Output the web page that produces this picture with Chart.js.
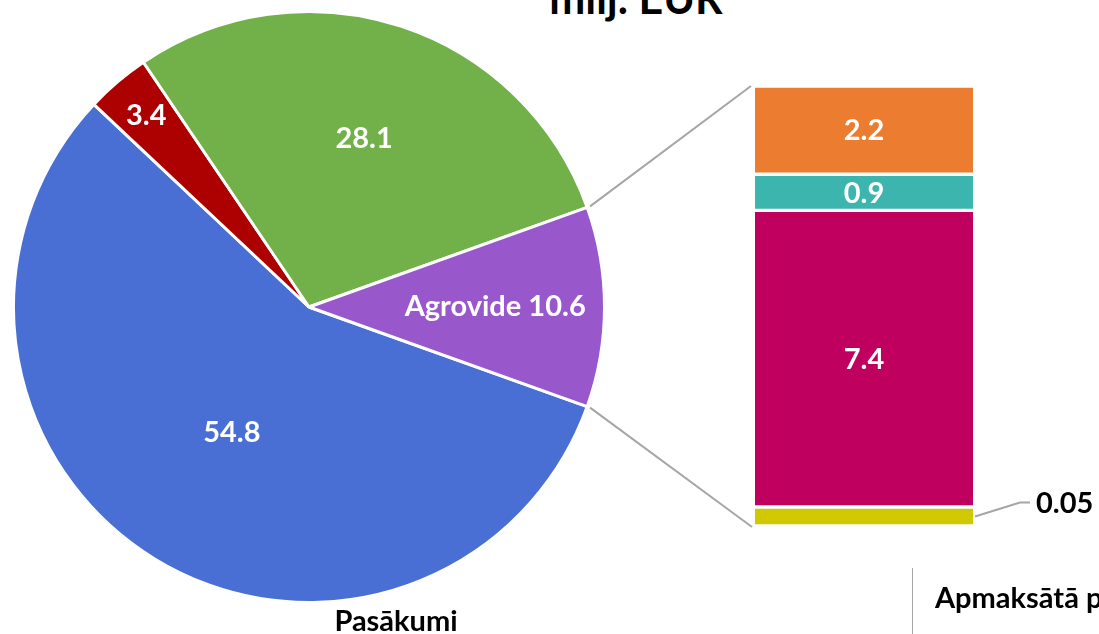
<!DOCTYPE html>
<html>
<head>
<meta charset="utf-8">
<script src="https://cdn.jsdelivr.net/npm/chart.js@4.4.1/dist/chart.umd.min.js"></script>
<style>
  html, body { margin: 0; padding: 0; background: #fff; overflow: hidden; }
  body { width: 1099px; height: 634px; position: relative; font-family: Lato, "Open Sans", sans-serif; }
  canvas { position: absolute; }
  #pie { left: 12px; top: 10px; }
  #bar { left: 755px; top: 86px; }
  #links { left: 0; top: 0; pointer-events: none; }
  .txt { position: absolute; font-weight: bold; color: #000; white-space: nowrap; line-height: 1; }
  #sep { position: absolute; left: 912px; top: 568px; width: 1px; height: 70px; background: #a6a6a6; }
</style>
</head>
<body>
<div class="txt" style="left:0; width:1272px; text-align:center; top:-24px; font-size:43px;">milj. EUR</div>
<canvas id="pie" width="594" height="594"></canvas>
<canvas id="bar" width="218" height="440"></canvas>
<canvas id="links" width="1099" height="634"></canvas>
<div class="txt" style="left:0; width:792px; text-align:center; top:605px; font-size:29px;">Pasākumi</div>
<div id="sep"></div>
<div class="txt" style="left:935px; top:582px; font-size:29px;">Apmaksātā p</div>

<script>
// pie: main split (last slice is broken out into the bar)
const pieNames = ['', '', '', 'Agrovide'];   // only the Agrovide name is shown
const pieValues = [54.8, 3.4, 28.1, 10.6];
const pieColors = ['#4a6fd4', '#ad0000', '#72b04a', '#9957cc'];
const pieLabelRadius = [0.5, 0.85, 0.6, 0.63];

// bar: Agrovide breakdown, bottom to top
const barValues = [0.05, 7.4, 0.9, 2.2];
const barColors = ['#d0c800', '#c0005e', '#3cb5ae', '#ec7c2f'];
const barLabelOutside = [true, false, false, false];

const LABEL_FONT = 'bold 29px Lato, "Open Sans", sans-serif';
const MIN_BAR = 19;   // tiny segments are still drawn this tall

const pieTotal = pieValues.reduce((a, b) => a + b, 0);
// turn the pie so the broken-out slice faces the bar (centred at 3 o'clock)
const last = pieValues.length - 1;
const beforeLast = pieValues.slice(0, last).reduce((a, b) => a + b, 0);
const pieRotation = 90 - (beforeLast + pieValues[last] / 2) / pieTotal * 360;

const pieLabelPlugin = {
    id: 'pieLabels',
    afterDatasetsDraw(chart) {
        const ctx = chart.ctx;
        const arcs = chart.getDatasetMeta(0).data;
        ctx.save();
        ctx.font = LABEL_FONT;
        ctx.fillStyle = '#fff';
        ctx.textAlign = 'center';
        ctx.textBaseline = 'middle';
        arcs.forEach((arc, i) => {
            const p = arc.getProps(['x', 'y', 'startAngle', 'endAngle', 'outerRadius'], true);
            const mid = (p.startAngle + p.endAngle) / 2;
            const r = p.outerRadius * pieLabelRadius[i];
            const text = (pieNames[i] ? pieNames[i] + ' ' : '') + pieValues[i].toFixed(1);
            ctx.fillText(text, p.x + Math.cos(mid) * r, p.y + Math.sin(mid) * r);
        });
        ctx.restore();
    }
};

const barLabelPlugin = {
    id: 'barLabels',
    afterDatasetsDraw(chart) {
        const ctx = chart.ctx;
        ctx.save();
        ctx.font = LABEL_FONT;
        ctx.fillStyle = '#fff';
        ctx.textAlign = 'center';
        ctx.textBaseline = 'middle';
        chart.data.datasets.forEach((ds, i) => {
            if (barLabelOutside[i]) return;
            const bar = chart.getDatasetMeta(i).data[0];
            const p = bar.getProps(['x', 'y', 'base'], true);
            ctx.fillText(String(barValues[i]), p.x, (p.y + p.base) / 2 + 1);
        });
        ctx.restore();
    }
};

function drawCharts() {
    const pieCanvas = document.getElementById('pie');
    const barCanvas = document.getElementById('bar');

    const pieChart = new Chart(pieCanvas, {
        type: 'pie',
        data: {
            labels: pieNames,
            datasets: [{
                data: pieValues,
                backgroundColor: pieColors,
                borderColor: '#fff',
                borderWidth: 3
            }]
        },
        options: {
            responsive: false,
            animation: false,
            rotation: pieRotation,
            layout: { padding: 0 },
            plugins: { legend: { display: false }, tooltip: { enabled: false } }
        },
        plugins: [pieLabelPlugin]
    });

    // Chart.js stacks on top of the min-length segment, so leave room for it
    const innerTotal = barValues.filter((v, i) => !barLabelOutside[i]).reduce((a, b) => a + b, 0);
    const nSmall = barLabelOutside.filter(Boolean).length;
    const barMax = innerTotal * barCanvas.height / (barCanvas.height - nSmall * MIN_BAR);

    const barChart = new Chart(barCanvas, {
        type: 'bar',
        data: {
            labels: ['Agrovide'],
            datasets: barValues.map((v, i) => ({
                data: [v],
                backgroundColor: barColors[i],
                borderColor: '#fff',
                borderWidth: { top: 2, bottom: 2, left: 0, right: 0 },
                borderSkipped: false,
                minBarLength: barLabelOutside[i] ? MIN_BAR : 0,
                categoryPercentage: 1,
                barPercentage: 1
            }))
        },
        options: {
            responsive: false,
            animation: false,
            layout: { padding: 0 },
            plugins: { legend: { display: false }, tooltip: { enabled: false } },
            scales: {
                x: { stacked: true, display: false },
                y: { stacked: true, display: false, bounds: 'data', min: 0, max: barMax }
            }
        },
        plugins: [barLabelPlugin]
    });

    // connector lines and the outside label, on the overlay
    const ctx = document.getElementById('links').getContext('2d');
    const pieOff = { x: pieCanvas.offsetLeft, y: pieCanvas.offsetTop };
    const barOff = { x: barCanvas.offsetLeft, y: barCanvas.offsetTop };

    const arc = pieChart.getDatasetMeta(0).data[last].getProps(['x', 'y', 'startAngle', 'endAngle', 'outerRadius'], true);
    const R = arc.outerRadius + 3;
    const topBar = barChart.getDatasetMeta(barValues.length - 1).data[0].getProps(['x', 'y', 'base', 'width'], true);
    const botBar = barChart.getDatasetMeta(0).data[0].getProps(['x', 'y', 'base', 'width'], true);

    ctx.strokeStyle = '#a6a6a6';
    ctx.lineWidth = 2;
    ctx.beginPath();
    ctx.moveTo(pieOff.x + arc.x + Math.cos(arc.startAngle) * R, pieOff.y + arc.y + Math.sin(arc.startAngle) * R);
    ctx.lineTo(barOff.x + topBar.x - topBar.width / 2 - 4, barOff.y + topBar.y);
    ctx.moveTo(pieOff.x + arc.x + Math.cos(arc.endAngle) * R, pieOff.y + arc.y + Math.sin(arc.endAngle) * R);
    ctx.lineTo(barOff.x + botBar.x - botBar.width / 2 - 3, barOff.y + botBar.base + 1);
    ctx.stroke();

    barValues.forEach((v, i) => {
        if (!barLabelOutside[i]) return;
        const b = barChart.getDatasetMeta(i).data[0].getProps(['x', 'y', 'base', 'width'], true);
        const x0 = barOff.x + b.x + b.width / 2 + 2;
        const y0 = barOff.y + (b.y + b.base) / 2;
        ctx.beginPath();
        ctx.moveTo(x0, y0);
        ctx.lineTo(x0 + 45, y0 - 14);
        ctx.lineTo(x0 + 55, y0 - 14);
        ctx.stroke();
        ctx.font = LABEL_FONT;
        ctx.fillStyle = '#000';
        ctx.textAlign = 'left';
        ctx.textBaseline = 'middle';
        ctx.fillText(String(v), x0 + 61, y0 - 13);
    });
}

if (document.fonts && document.fonts.load) {
    document.fonts.load(LABEL_FONT).then(drawCharts, drawCharts);
} else {
    drawCharts();
}
</script>
</body>
</html>
